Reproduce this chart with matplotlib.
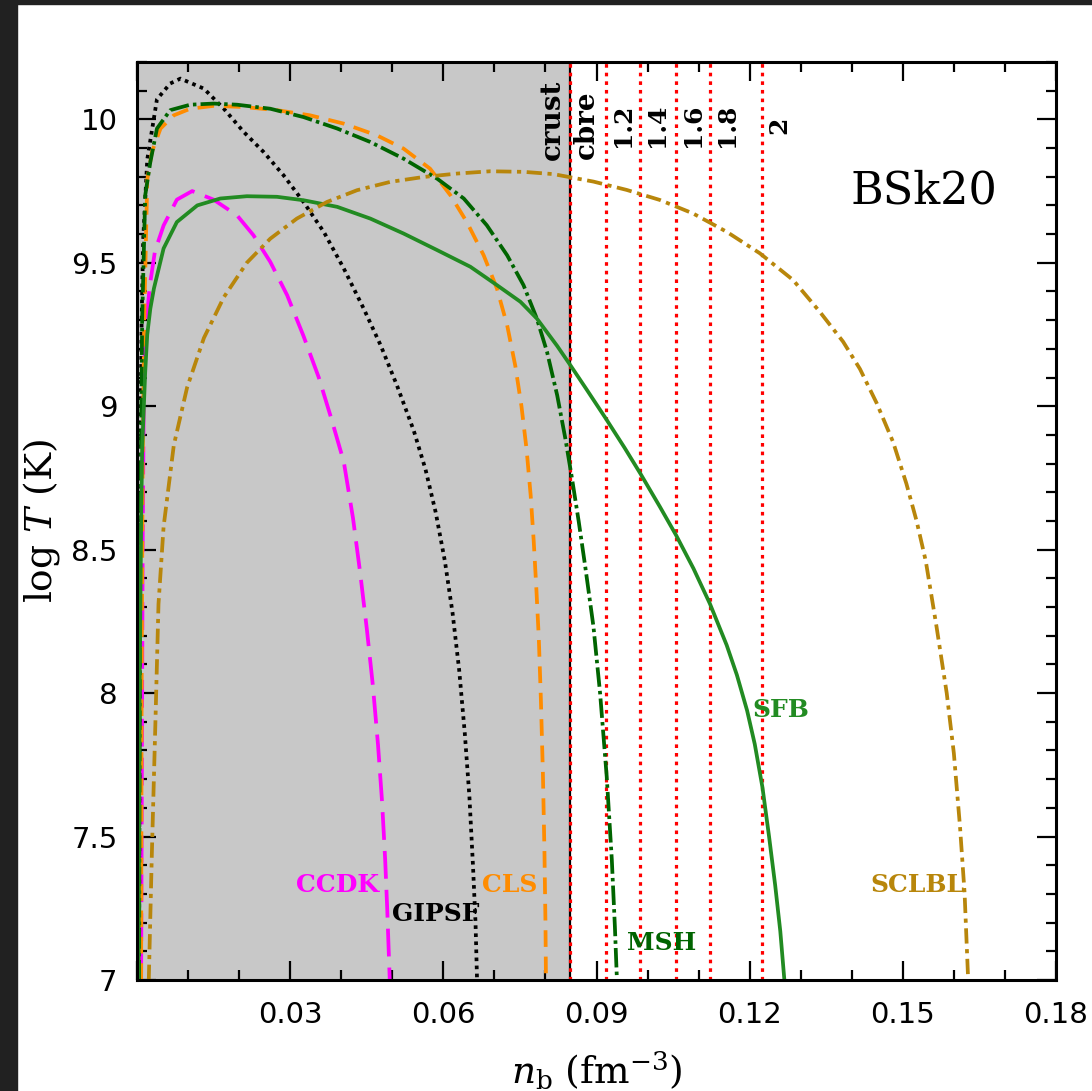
import numpy as np
import matplotlib
matplotlib.use("Agg")
import matplotlib.pyplot as plt
from matplotlib.patches import Rectangle

# critical temperature curves, log T (K) vs n_b (fm^-3)
ccdk_n = [0.0008, 0.0009, 0.0010, 0.0011, 0.0013, 0.0016, 0.0025, 0.0035, 0.0052, 0.0078,
          0.0108, 0.0150, 0.0196, 0.0228, 0.0261, 0.0294, 0.0326, 0.0356, 0.0380, 0.0405,
          0.0423, 0.0437, 0.0450, 0.0462, 0.0472, 0.0480, 0.0486, 0.0490, 0.0493, 0.0495]
ccdk_t = [7.00, 7.50, 8.00, 8.50, 9.00, 9.25, 9.42, 9.54, 9.63, 9.72,
          9.75, 9.72, 9.665, 9.596, 9.503, 9.387, 9.245, 9.10, 8.96, 8.806,
          8.61, 8.42, 8.225, 8.025, 7.82, 7.62, 7.42, 7.25, 7.10, 7.00]

gipsf_n = [0.0004, 0.0005, 0.0006, 0.0009, 0.0012, 0.0020, 0.0039, 0.0065, 0.0085, 0.0131,
           0.0170, 0.0209, 0.0248, 0.0287, 0.0326, 0.0366, 0.0405, 0.0444, 0.0477, 0.0509,
           0.0542, 0.0565, 0.0585, 0.0603, 0.0618, 0.0631, 0.0642, 0.0651, 0.0658, 0.0663,
           0.0666]
gipsf_t = [7.00, 8.00, 8.80, 9.30, 9.58, 9.86, 10.07, 10.125, 10.142, 10.107,
           10.037, 9.956, 9.886, 9.805, 9.712, 9.607, 9.48, 9.34, 9.213, 9.073,
           8.915, 8.78, 8.63, 8.46, 8.28, 8.08, 7.86, 7.64, 7.40, 7.20,
           7.00]

cls_n = [0.0008, 0.0009, 0.0011, 0.0014, 0.0020, 0.0029, 0.0046, 0.0072, 0.0104, 0.0150,
         0.0209, 0.0274, 0.0339, 0.0405, 0.0470, 0.0522, 0.0574, 0.0614, 0.0646, 0.0679,
         0.0705, 0.0725, 0.0741, 0.0753, 0.0763, 0.0771, 0.0777, 0.0782, 0.0787, 0.0791,
         0.0795, 0.0798, 0.0800, 0.0801]
cls_t = [7.00, 8.00, 8.80, 9.30, 9.79, 9.886, 9.968, 10.014, 10.037, 10.047,
         10.043, 10.032, 10.014, 9.985, 9.944, 9.898, 9.828, 9.735, 9.642, 9.526,
         9.41, 9.282, 9.14, 9.00, 8.85, 8.69, 8.53, 8.37, 8.19, 7.98,
         7.72, 7.45, 7.20, 7.00]

msh_n = [0.0004, 0.0006, 0.0010, 0.0016, 0.0026, 0.0039, 0.0065, 0.0104, 0.0150, 0.0196,
         0.0261, 0.0326, 0.0392, 0.0457, 0.0522, 0.0588, 0.0640, 0.0685, 0.0725, 0.0757,
         0.0783, 0.0803, 0.0823, 0.0839, 0.0852, 0.0865, 0.0878, 0.0894, 0.0907, 0.0920,
         0.0930, 0.0936, 0.0940]
msh_t = [7.00, 8.50, 9.30, 9.735, 9.851, 9.968, 10.032, 10.051, 10.055, 10.051,
         10.037, 10.008, 9.968, 9.921, 9.863, 9.793, 9.724, 9.631, 9.526, 9.422,
         9.306, 9.19, 9.038, 8.887, 8.748, 8.60, 8.44, 8.232, 8.00, 7.709,
         7.419, 7.186, 7.00]

sfb_n = [0.0003, 0.0005, 0.0008, 0.0010, 0.0016, 0.0020, 0.0026, 0.0033, 0.0052, 0.0078,
         0.0118, 0.0163, 0.0215, 0.0274, 0.0326, 0.0392, 0.0457, 0.0522, 0.0588, 0.0653,
         0.0705, 0.0751, 0.0783, 0.0823, 0.0848, 0.0880, 0.0919, 0.0955, 0.0986, 0.1024,
         0.1056, 0.1090, 0.1122, 0.1155, 0.1175, 0.1195, 0.1210, 0.1225, 0.1238, 0.1250,
         0.1260, 0.1268]
sfb_t = [7.00, 8.00, 8.60, 8.85, 9.12, 9.25, 9.34, 9.41, 9.55, 9.642,
         9.70, 9.724, 9.732, 9.73, 9.718, 9.695, 9.654, 9.602, 9.544, 9.486,
         9.422, 9.364, 9.306, 9.21, 9.145, 9.06, 8.955, 8.855, 8.765, 8.65,
         8.55, 8.434, 8.312, 8.167, 8.063, 7.939, 7.822, 7.672, 7.50, 7.33,
         7.17, 7.00]

sclbl_n = [0.0023, 0.0029, 0.0036, 0.0042, 0.0052, 0.0072, 0.0098, 0.0131, 0.0170, 0.0215,
           0.0261, 0.0313, 0.0372, 0.0431, 0.0496, 0.0561, 0.0627, 0.0692, 0.0757, 0.0816,
           0.0894, 0.0959, 0.1024, 0.1089, 0.1155, 0.1220, 0.1285, 0.1337, 0.1383, 0.1416,
           0.1449, 0.1481, 0.1507, 0.1527, 0.1545, 0.1566, 0.1586, 0.1600, 0.1612, 0.1621,
           0.1628]
sclbl_t = [7.00, 7.44, 7.90, 8.31, 8.58, 8.864, 9.065, 9.238, 9.38, 9.50,
           9.584, 9.654, 9.712, 9.753, 9.782, 9.799, 9.811, 9.819, 9.817, 9.809,
           9.783, 9.754, 9.719, 9.672, 9.608, 9.533, 9.44, 9.33, 9.225, 9.13,
           9.01, 8.875, 8.73, 8.60, 8.46, 8.232, 8.00, 7.79, 7.535, 7.303,
           7.00]

# crust-core boundary and direct Urca thresholds
crust_n = 0.0848
durca_n = [0.0848, 0.0919, 0.0986, 0.1056, 0.1122, 0.1225]
durca_labels = ["cbre", "1.2", "1.4", "1.6", "1.8", "2"]

# name label: (text, n, log T)
curve_labels = [("CCDK", 0.0474, 7.33), ("GIPSF", 0.0500, 7.23), ("CLS", 0.0676, 7.33),
                ("MSH", 0.0960, 7.13), ("SFB", 0.1205, 7.94), ("SCLBL", 0.1436, 7.33)]

xticks = [0.0, 0.03, 0.06, 0.09, 0.12, 0.15, 0.18]
xtick_labels = ["", "0.03", "0.06", "0.09", "0.12", "0.15", "0.18"]
yticks = [7, 7.5, 8, 8.5, 9, 9.5, 10]
ytick_labels = ["7", "7.5", "8", "8.5", "9", "9.5", "10"]

plt.rcParams["lines.scale_dashes"] = False
plt.rcParams["mathtext.fontset"] = "dejavuserif"

fig = plt.figure(figsize=(10.92, 10.91), dpi=100)
ax = fig.add_axes([0.1255, 0.1018, 0.8415, 0.8414])

# screenshot border
fig.patches.append(Rectangle((0, 0), 17 / 1092, 1, transform=fig.transFigure, color="#212121"))
fig.patches.append(Rectangle((0, 1 - 4 / 1091), 1, 4 / 1091, transform=fig.transFigure, color="#212121"))

ax.axvspan(0, crust_n, color="#c8c8c8", zorder=0, lw=0)
ax.axvline(crust_n, color="black", lw=1.6, zorder=1)
for xn in durca_n:
    ax.axvline(xn, color="red", lw=2.3, ls=(0, (2.6, 3.6)), zorder=1.5)

lw = 2.7
ax.plot(ccdk_n, ccdk_t, color="#ff00ff", lw=lw, ls=(0, (20, 8)))
ax.plot(gipsf_n, gipsf_t, color="black", lw=lw, ls=(0, (2.6, 3.2)))
ax.plot(cls_n, cls_t, color="#ff8c00", lw=lw, ls=(0, (12, 7)))
ax.plot(msh_n, msh_t, color="#006400", lw=lw, ls=(0, (14, 3, 2.5, 3)))
ax.plot(sfb_n, sfb_t, color="#228b22", lw=lw)
ax.plot(sclbl_n, sclbl_t, color="#b8860b", lw=lw, ls=(0, (11, 4, 3, 4)))

colors = {"CCDK": "#ff00ff", "GIPSF": "black", "CLS": "#ff8c00",
          "MSH": "#006400", "SFB": "#228b22", "SCLBL": "#b8860b"}
for name, xn, yt in curve_labels:
    ax.text(xn, yt, name, color=colors[name], fontsize=18, fontweight="bold",
            family="DejaVu Serif", ha="left" if name != "CCDK" else "right", va="center")

ax.text(-0.0035 + crust_n, 10.0, "crust", rotation=90, fontsize=20, fontweight="bold",
        family="DejaVu Serif", ha="center", va="center")
for xn, lab in zip(durca_n, durca_labels):
    ax.text(xn + 0.0033, 9.98, lab, rotation=90, fontsize=20 if lab == "cbre" else 18,
            fontweight="bold", family="DejaVu Serif", ha="center", va="center")

ax.text(0.1541, 9.75, "BSk20", fontsize=32, family="DejaVu Serif", ha="center", va="center")

ax.set_xlim(0, 0.18)
ax.set_ylim(7, 10.2)
ax.set_xticks(xticks)
ax.set_xticklabels(xtick_labels)
ax.set_yticks(yticks)
ax.set_yticklabels(ytick_labels)
ax.set_xticks(np.arange(0, 0.1801, 0.01), minor=True)
ax.set_yticks(np.arange(7, 10.201, 0.1), minor=True)
ax.tick_params(which="both", direction="in", top=True, right=True, width=1.6, labelsize=21)
ax.tick_params(which="major", length=14)
ax.tick_params(which="minor", length=7)
ax.tick_params(axis="x", pad=15)
ax.tick_params(axis="y", pad=14)
for s in ax.spines.values():
    s.set_linewidth(2.2)

ax.set_xlabel(r"$n_{\rm b}$ (fm$^{-3}$)", fontsize=27, family="DejaVu Serif")
ax.set_ylabel(r"log $T$ (K)", fontsize=27, family="DejaVu Serif")
ax.xaxis.set_label_coords(0.5, -0.076)
ax.yaxis.set_label_coords(-0.082, 0.5)

fig.savefig("out.png", dpi=100)
